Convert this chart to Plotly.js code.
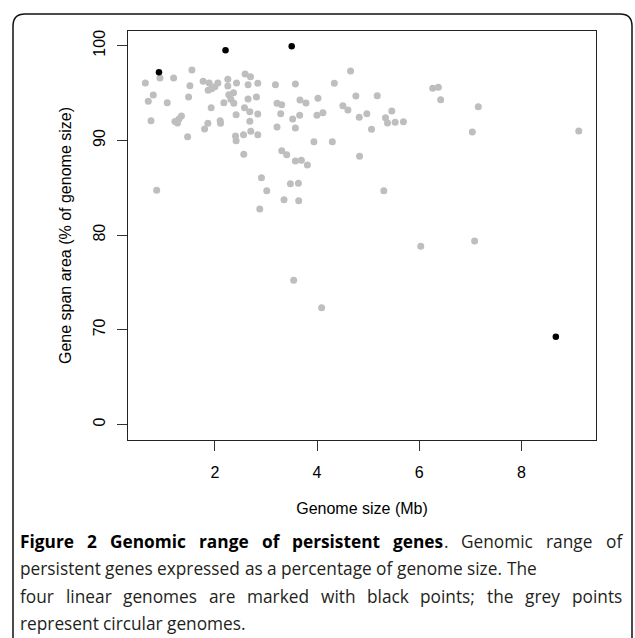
<!DOCTYPE html>
<html>
<head>
<meta charset="utf-8">
<script src="https://cdn.plot.ly/plotly-3.0.1.min.js"></script>
<style>
  html, body { margin: 0; padding: 0; background: #fff; }
  #chart { width: 635px; height: 638px; }
</style>
</head>
<body>
<div id="chart"></div>
<script>
// Circular genomes (grey points): genome size (Mb) and gene span area (% of genome size)
const circularSize = [0.639,0.926,1.193,1.551,1.512,0.795,0.697,1.068,1.486,1.771,1.889,2.059,1.869,1.936,2.000,
  2.254,2.254,2.424,2.592,2.697,2.650,2.840,2.273,2.365,2.313,2.371,2.176,1.928,2.650,2.814,2.580,2.684,2.840,
  2.416,0.750,1.219,1.268,1.297,1.346,1.863,1.799,2.104,2.111,2.684,1.467,2.404,2.416,2.561,2.703,2.840,2.566,
  4.656,3.186,3.576,4.338,3.217,3.309,3.666,3.783,4.018,4.760,5.178,4.506,4.604,3.289,3.660,3.523,3.998,4.115,
  4.826,4.975,5.463,5.340,5.379,5.529,5.691,3.217,3.576,5.066,3.939,4.299,3.309,3.406,3.576,3.693,3.811,4.832,
  6.264,6.375,6.420,7.156,7.039,9.123,0.861,2.912,3.016,3.479,3.635,3.354,3.641,2.879,3.543,5.307,6.030,7.084,4.090];
const circularSpan = [96.06,96.59,96.59,97.43,95.78,94.79,94.13,93.98,94.58,96.24,96.06,96.06,95.29,95.46,95.67,
  96.45,95.74,96.06,97.01,96.73,95.88,96.03,94.83,95.04,94.34,93.92,93.98,93.45,94.37,94.58,93.45,93.03,92.79,
  92.71,92.08,92.00,91.84,92.26,92.58,91.81,91.20,92.08,91.81,92.02,90.39,90.46,89.97,90.60,90.96,90.60,88.53,
  97.33,95.88,95.96,96.03,93.92,93.77,94.27,93.95,94.45,94.69,94.72,93.66,93.21,92.82,92.65,92.26,92.65,92.93,
  92.44,92.82,93.10,92.40,91.84,91.91,91.97,91.41,91.31,91.17,89.86,89.86,88.91,88.49,87.82,87.90,87.40,88.32,
  95.50,95.61,94.30,93.56,90.89,90.99,84.73,86.06,84.69,85.43,85.47,83.74,83.63,82.76,75.23,84.69,78.82,79.38,72.33];

// Linear genomes (black points)
const linearSize = [0.906, 2.209, 3.504, 8.674];
const linearSpan = [97.19, 99.51, 99.94, 69.27];

// Axis ticks (broken y axis: the lowest tick is labelled 0)
const xTickVals = [2, 4, 6, 8];
const xTickText = ["2", "4", "6", "8"];
const yTickVals = [60, 70, 80, 90, 100];
const yTickText = ["0", "70", "80", "90", "100"];

// Caption text
const captionBold = "Figure 2 Genomic range of persistent genes";
const captionLines = [
  ". Genomic range of",
  "persistent genes expressed as a percentage of genome size. The",
  "four linear genomes are marked with black points; the grey points",
  "represent circular genomes."
];

// Plot-area geometry in pixels
const W = 635, H = 638;
const L = 128, R = 596, T = 31, B = 440;
const px = x => (x - L) / (R - L);
const py = y => (B - y) / (B - T);

function roundedBox(x0, y0, x1, y1, r) {
  const rx = r / (R - L), ry = r / (B - T);
  const a = px(x0), b = px(x1), top = py(y0), bot = py(y1);
  return `M ${a},${bot} L ${a},${top - ry} Q ${a},${top} ${a + rx},${top} ` +
         `L ${b - rx},${top} Q ${b},${top} ${b},${top - ry} L ${b},${bot}`;
}

const axisFont = { family: "Liberation Sans, Arial, sans-serif", size: 16, color: "#000" };
const capFamily = "Open Sans";
const capSize = 17.3;
const capColor = "#231f20";
const capLeft = 20, capRight = 622;
const capY = [541, 568, 596, 623];

// text measurement for justified caption layout
const ctx = document.createElement("canvas").getContext("2d");
function measure(text, size, bold) {
  ctx.font = `${bold ? "bold " : ""}${size}px "${capFamily}"`;
  return ctx.measureText(text).width;
}

function wordAnn(text, xPix, yPix, size, bold) {
  return {
    text: bold ? `<b>${text}</b>` : text, xref: "paper", yref: "paper",
    x: px(xPix), y: py(yPix), xanchor: "left", yanchor: "middle",
    showarrow: false, borderpad: 0, borderwidth: 0,
    font: { family: capFamily, size: size, color: bold ? "#000" : capColor }
  };
}

const annotations = [];
function justify(toks, lineIdx, full) {
  toks.forEach(tk => tk.w = measure(tk.t, tk.size, tk.bold));
  const total = toks.reduce((s, tk) => s + tk.w, 0);
  const nGaps = toks.filter(tk => tk.gap).length;
  const natural = measure(" ", capSize, false);
  const gapW = full ? (capRight - capLeft - total) / nGaps : natural;
  let x = capLeft;
  toks.forEach(tk => {
    if (tk.gap) x += gapW;
    annotations.push(wordAnn(tk.t, x, capY[lineIdx], tk.size, tk.bold));
    x += tk.w;
  });
}

// line 1: bold heading words + regular tail, justified
(function () {
  const toks = [];
  captionBold.split(" ").forEach((w, i) => toks.push({ t: w, bold: true, gap: i > 0, size: capSize }));
  toks.push({ t: ".", bold: false, gap: false, size: capSize });
  captionLines[0].slice(1).trim().split(" ").forEach(w => toks.push({ t: w, bold: false, gap: true, size: capSize }));
  justify(toks, 0, true);
})();
captionLines.slice(1).forEach((line, k) => {
  const toks = line.split(" ").map((w, i) => ({ t: w, bold: false, gap: i > 0, size: capSize }));
  justify(toks, k + 1, k + 1 === 2);
});

const traces = [
  {
    x: circularSize, y: circularSpan, type: "scatter", mode: "markers",
    marker: { color: "#bebebe", size: 7, line: { width: 0 } },
    hoverinfo: "skip", cliponaxis: false
  },
  {
    x: linearSize, y: linearSpan, type: "scatter", mode: "markers",
    marker: { color: "#000000", size: 6.5, line: { width: 0 } },
    hoverinfo: "skip", cliponaxis: false
  }
];

const layout = {
  width: W, height: H,
  margin: { l: L, r: W - R, t: T, b: H - B, pad: 0 },
  paper_bgcolor: "#fff", plot_bgcolor: "#fff",
  showlegend: false,
  xaxis: {
    range: [0.30, 9.46], tickvals: xTickVals, ticktext: xTickText,
    ticks: "outside", ticklen: 10, tickwidth: 1, tickcolor: "#333",
    showline: true, linecolor: "#222", linewidth: 1, mirror: true,
    showgrid: false, zeroline: false, tickfont: axisFont, ticklabelstandoff: 8,
    title: { text: "Genome size (Mb)", font: axisFont, standoff: 22 }
  },
  yaxis: {
    range: [58.36, 101.55], tickvals: yTickVals, ticktext: yTickText,
    ticks: "outside", ticklen: 10, tickwidth: 1, tickcolor: "#333", tickangle: -90,
    showline: true, linecolor: "#222", linewidth: 1, mirror: true,
    showgrid: false, zeroline: false, tickfont: axisFont, ticklabelstandoff: 6,
    title: { text: "Gene span area (% of genome size)", font: axisFont, standoff: 14 }
  },
  shapes: [{
    type: "path", xref: "paper", yref: "paper",
    path: roundedBox(13, 14, 632, 700, 12),
    line: { color: "#111", width: 1.5 }, fillcolor: "rgba(0,0,0,0)"
  }],
  annotations: annotations
};

Plotly.newPlot("chart", traces, layout, { staticPlot: true, displayModeBar: false });
</script>
</body>
</html>
